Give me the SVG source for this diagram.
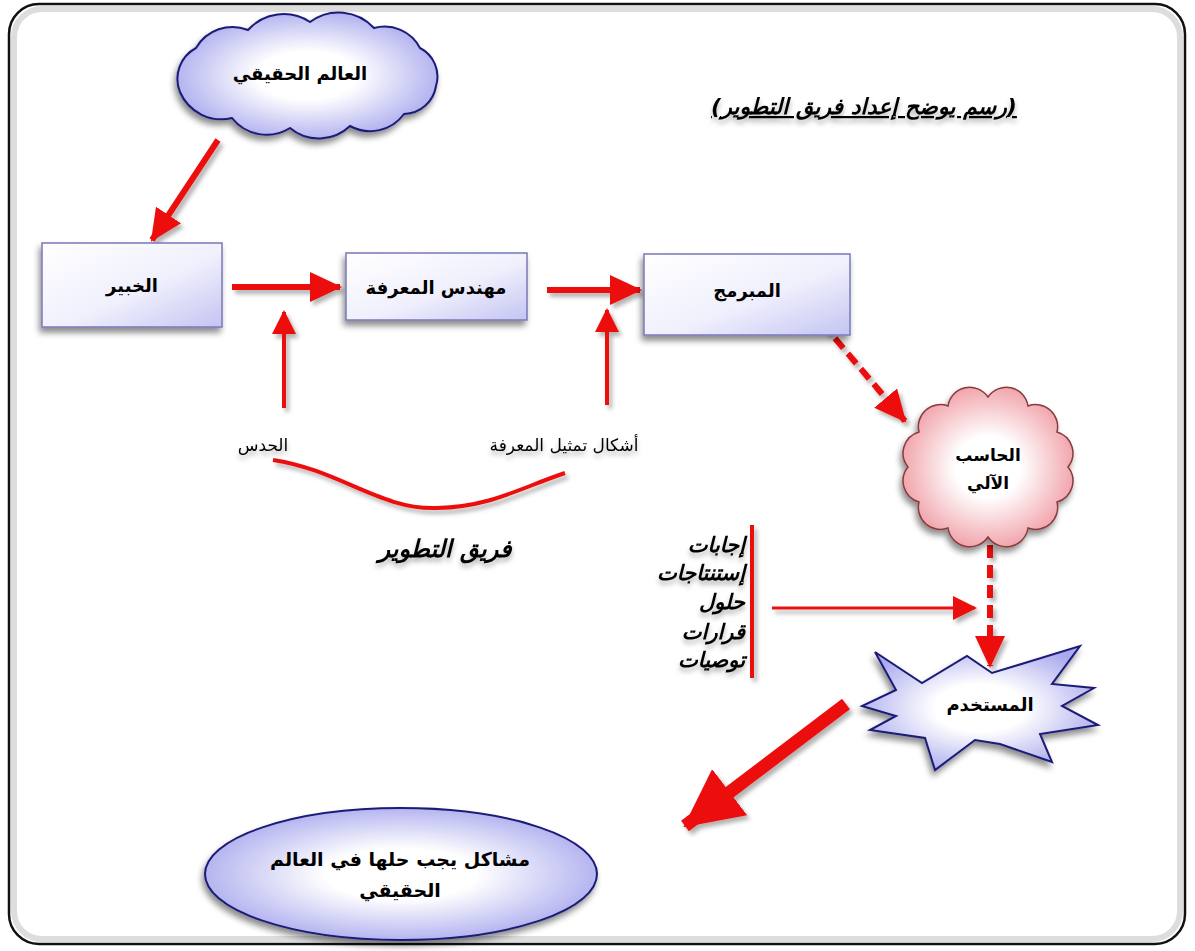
<svg xmlns="http://www.w3.org/2000/svg" width="1195" height="951" viewBox="0 0 1195 951">
<style>
  .t{font-family:"DejaVu Sans","Noto Sans",sans-serif;font-weight:bold;fill:#000;text-anchor:middle}
  .n{font-weight:normal}
  .i{font-style:italic}
  .e{text-anchor:end}
  .red{stroke:#ec1010;fill:none;stroke-linecap:butt}
  .box{fill:url(#gBox);stroke:#7878b8;stroke-width:1.5}
  .blue{fill:url(#gBlue);stroke:#1c1c78;stroke-width:2}
</style>
<defs>
  <filter id="sh" x="-20%" y="-20%" width="150%" height="150%">
    <feDropShadow dx="-2" dy="5" stdDeviation="3" flood-color="#000" flood-opacity="0.45"/>
  </filter>
  <filter id="tsh" x="-10%" y="-30%" width="130%" height="190%">
    <feDropShadow dx="0" dy="4" stdDeviation="2.5" flood-color="#000" flood-opacity="0.3"/>
  </filter>
  <filter id="ash" x="-20%" y="-20%" width="150%" height="150%">
    <feDropShadow dx="3" dy="4" stdDeviation="2" flood-color="#000" flood-opacity="0.3"/>
  </filter>
  <radialGradient id="gBlue" cx="50%" cy="50%" r="55%">
    <stop offset="0.35" stop-color="#ffffff"/>
    <stop offset="1" stop-color="#a9a9ee"/>
  </radialGradient>
  <radialGradient id="gPink" cx="50%" cy="50%" r="55%">
    <stop offset="0.35" stop-color="#ffffff"/>
    <stop offset="1" stop-color="#ef9aa2"/>
  </radialGradient>
  <linearGradient id="gBox" x1="0" y1="0" x2="1" y2="1">
    <stop offset="0" stop-color="#ffffff"/>
    <stop offset="0.55" stop-color="#f0f0fd"/>
    <stop offset="1" stop-color="#c4c4f2"/>
  </linearGradient>
  <marker id="h" markerUnits="userSpaceOnUse" markerWidth="32" markerHeight="30" refX="30" refY="15" orient="auto">
    <path d="M0,0 L32,15 L0,30 z" fill="#ec1010"/>
  </marker>
  <marker id="hs" markerUnits="userSpaceOnUse" markerWidth="24" markerHeight="24" refX="22" refY="12" orient="auto">
    <path d="M0,0 L24,12 L0,24 z" fill="#ec1010"/>
  </marker>
  <marker id="hb" markerUnits="userSpaceOnUse" markerWidth="58" markerHeight="58" refX="56" refY="29" orient="auto">
    <path d="M0,0 L58,29 L0,58 z" fill="#ec1010"/>
  </marker>
</defs>

<rect width="1195" height="951" fill="#ffffff"/>
<rect x="14" y="9" width="1166" height="930" rx="28" fill="none" stroke="#cfcfcf" stroke-width="6" opacity="0.7"/>
<rect x="9" y="4" width="1176" height="940" rx="30" fill="none" stroke="#111" stroke-width="2.5"/>

<g id="title">
  <text class="t i" x="864" y="114" font-size="22" text-decoration="underline" filter="url(#tsh)">(رسم يوضح إعداد فريق التطوير)</text>
</g>

<g id="connectors">
  <g filter="url(#ash)">
    <line class="red" x1="218" y1="140" x2="152" y2="240" stroke-width="6" marker-end="url(#h)"/>
    <line class="red" x1="232" y1="287" x2="340" y2="287" stroke-width="6" marker-end="url(#h)"/>
    <line class="red" x1="547" y1="290" x2="640" y2="290" stroke-width="6" marker-end="url(#h)"/>
    <line class="red" x1="284" y1="408" x2="284" y2="312" stroke-width="4" marker-end="url(#hs)"/>
    <line class="red" x1="607" y1="405" x2="607" y2="310" stroke-width="4" marker-end="url(#hs)"/>
    <line class="red" x1="822" y1="323" x2="905" y2="421" stroke-width="6" stroke-dasharray="13 7" marker-end="url(#h)"/>
    <line class="red" x1="990" y1="545" x2="990" y2="666" stroke-width="6" stroke-dasharray="13 7" marker-end="url(#h)"/>
    <line class="red" x1="772" y1="608" x2="975" y2="608" stroke-width="3" marker-end="url(#hs)"/>
    <line class="red" x1="752" y1="525" x2="752" y2="678" stroke-width="4"/>
    <path class="red" d="M273,460 C340,470 380,510 437,508 C490,507 520,488 565,473" stroke-width="4"/>
    <line class="red" x1="846" y1="704" x2="685" y2="826" stroke-width="13" marker-end="url(#hb)"/>
  </g>
</g>

<g id="node-real-world">
  <path class="blue" filter="url(#sh)" d="M180,92 A35,35 0 0 1 196,48 A42,42 0 0 1 248,30 A48,48 0 0 1 310,22 A48,48 0 0 1 374,28 A40,40 0 0 1 420,48 A32,32 0 0 1 436,86 A33,33 0 0 1 404,114 A42,42 0 0 1 350,126 A45,45 0 0 1 290,128 A44,44 0 0 1 232,118 A45,45 0 0 1 180,92 z"/>
  <text class="t" x="300" y="80" font-size="18">العالم الحقيقي</text>
</g>

<g id="node-expert">
  <rect class="box" x="42" y="243" width="180" height="84" filter="url(#sh)"/>
  <text class="t" x="132" y="292" font-size="18">الخبير</text>
</g>

<g id="node-knowledge-engineer">
  <rect class="box" x="346" y="253" width="181" height="67" filter="url(#sh)"/>
  <text class="t" x="436" y="294" font-size="18">مهندس المعرفة</text>
</g>

<g id="node-programmer">
  <rect class="box" x="644" y="254" width="206" height="81" filter="url(#sh)"/>
  <text class="t" x="747" y="297" font-size="18">المبرمج</text>
</g>

<g id="labels">
  <text class="t n" x="263" y="451" font-size="17" filter="url(#tsh)">الحدس</text>
  <text class="t n" x="564" y="451" font-size="17" filter="url(#tsh)">أشكال تمثيل المعرفة</text>
  <text class="t i" x="445" y="557" font-size="24" filter="url(#tsh)">فريق التطوير</text>
  <g filter="url(#tsh)">
    <text class="t i e" x="745" y="552" font-size="21">إجابات</text>
    <text class="t i e" x="745" y="580" font-size="21">إستنتاجات</text>
    <text class="t i e" x="745" y="609" font-size="21">حلول</text>
    <text class="t i e" x="745" y="639" font-size="21">قرارات</text>
    <text class="t i e" x="745" y="667" font-size="21">توصيات</text>
  </g>
</g>

<g id="node-computer">
  <path filter="url(#sh)" fill="url(#gPink)" stroke="#8a3a3a" stroke-width="1.5" d="M1068,467 A22,22 0 0 1 1057,502 A22,22 0 0 1 1028,528 A22,22 0 0 1 988,537 A22,22 0 0 1 948,528 A22,22 0 0 1 919,502 A22,22 0 0 1 908,467 A22,22 0 0 1 919,432 A22,22 0 0 1 948,406 A22,22 0 0 1 988,397 A22,22 0 0 1 1028,406 A22,22 0 0 1 1057,432 A22,22 0 0 1 1068,467 z"/>
  <text class="t" x="988" y="461" font-size="17">الحاسب</text>
  <text class="t" x="988" y="489" font-size="17">الآلي</text>
</g>

<g id="node-user">
  <polygon class="blue" filter="url(#sh)" points="875,652 922,683 967,656 992,673 1080,646 1052,684 1094,688 1062,706 1098,725 1040,734 1052,762 1000,744 975,740 935,770 925,738 870,730 896,716 862,706 896,690"/>
  <text class="t" x="990" y="711" font-size="18">المستخدم</text>
</g>

<g id="node-problems">
  <ellipse class="blue" cx="401" cy="874" rx="196" ry="66" filter="url(#sh)"/>
  <text class="t" x="400" y="866" font-size="19">مشاكل يجب حلها في العالم</text>
  <text class="t" x="400" y="897" font-size="19">الحقيقي</text>
</g>
</svg>
